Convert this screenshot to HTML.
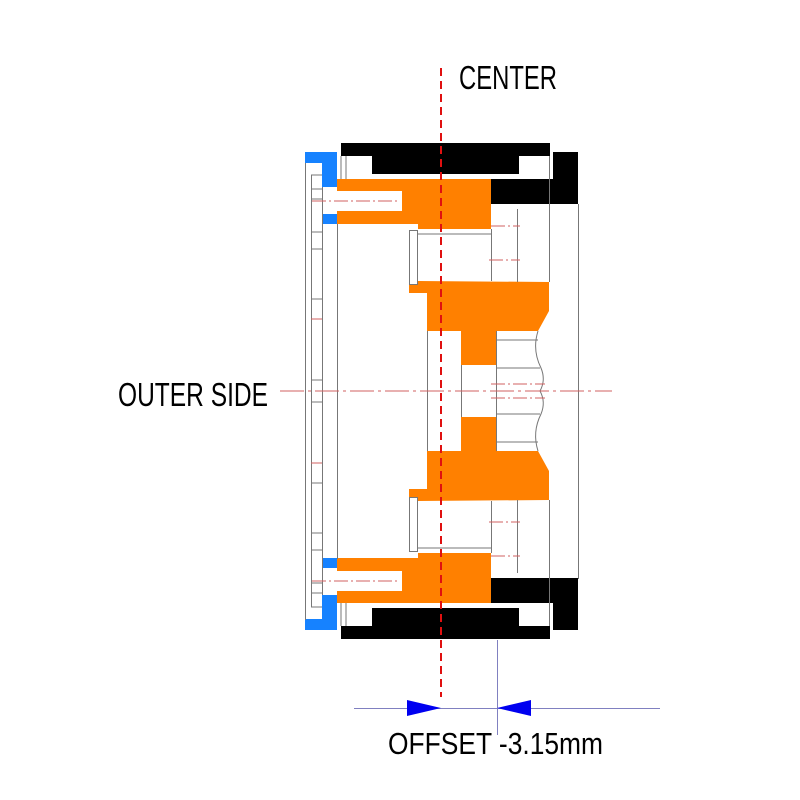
<!DOCTYPE html>
<html><head><meta charset="utf-8"><style>html,body{margin:0;padding:0;background:#fff}svg{display:block}</style></head>
<body>
<svg width="800" height="800" viewBox="0 0 800 800" xmlns="http://www.w3.org/2000/svg">
<rect width="800" height="800" fill="#fff"/>
<g id="half">
  <!-- black top -->
  <rect x="341" y="143" width="209" height="13" fill="#000"/>
  <rect x="372" y="143" width="147" height="31" fill="#000"/>
  <rect x="553" y="152" width="25" height="52" fill="#000"/>
  <rect x="491" y="179" width="87" height="25" fill="#000"/>
  <!-- blue -->
  <rect x="305" y="152" width="32" height="11" fill="#1682ff"/>
  <rect x="322" y="152" width="15" height="35" fill="#1682ff"/>
  <rect x="322" y="214" width="15" height="10" fill="#1682ff"/>
  <!-- orange -->
  <polygon points="337,179 491,179 491,229 418,229 418,224 337,224" fill="#ff8000"/>
  <rect x="337" y="191" width="65" height="20" fill="#fff"/>
  <polygon points="418,281 549,282 549,311 538,331 496,331 496,365 461,365 461,331 427,331 427,293 409,293 409,285 418,285" fill="#ff8000"/>
  <!-- gray lines -->
  <g stroke="#777" stroke-width="1" fill="none">
    <line x1="346" y1="156" x2="346" y2="179"/>
    <line x1="341" y1="156" x2="341" y2="179"/>
    <rect x="409.5" y="230.5" width="8" height="54"/>
    <line x1="418" y1="234" x2="491" y2="234"/>
    <line x1="491.5" y1="229" x2="491.5" y2="281"/>
    <line x1="517.5" y1="209" x2="517.5" y2="282"/>
    <line x1="549.5" y1="156" x2="549.5" y2="282"/>
    <line x1="427.5" y1="331" x2="427.5" y2="391"/>
    <line x1="461.5" y1="365" x2="461.5" y2="391"/>
    <line x1="496.5" y1="331" x2="496.5" y2="391"/>
    <line x1="496" y1="340" x2="538" y2="340"/>
    <line x1="496" y1="368" x2="540" y2="368"/>
    <path d="M538,331 Q532,350 541,368 Q546,380 540,391"/>
    <line x1="322.5" y1="187" x2="322.5" y2="391"/>
    <line x1="311.5" y1="175" x2="311.5" y2="391"/>
    <line x1="311" y1="175" x2="322" y2="175"/>
    <line x1="311" y1="189" x2="322" y2="189"/>
    <line x1="311" y1="199" x2="322" y2="199"/>
    <line x1="311" y1="232" x2="322" y2="232"/>
    <line x1="311" y1="249" x2="322" y2="249"/>
    <line x1="311" y1="299" x2="322" y2="299"/>
    <line x1="311" y1="380" x2="322" y2="380"/>
  </g>
  <g stroke="#d06060" stroke-width="1" stroke-dasharray="14,3,2,3" fill="none">
    <line x1="312" y1="201" x2="400" y2="201"/>
    <line x1="491" y1="226" x2="520" y2="226"/>
    <line x1="489" y1="260" x2="520" y2="260"/>
    <line x1="491" y1="384" x2="545" y2="384"/>
    <line x1="311" y1="319" x2="322" y2="319"/>
  </g>
</g>
<use href="#half" transform="translate(0,782) scale(1,-1)"/>
<g stroke="#777" stroke-width="1" fill="none">
  <line x1="305.5" y1="163" x2="305.5" y2="620"/>
  <line x1="337.5" y1="224" x2="337.5" y2="559"/>
  <line x1="578.5" y1="204" x2="578.5" y2="579"/>
</g>
<line x1="280" y1="391" x2="612" y2="391" stroke="#d06060" stroke-width="1" stroke-dasharray="24,4,3,4"/>
<line x1="441" y1="68" x2="441" y2="697" stroke="#e01010" stroke-width="2" stroke-dasharray="8,5"/>
<!-- dimension -->
<line x1="497.5" y1="640" x2="497.5" y2="735" stroke="#8080c0" stroke-width="1"/>
<line x1="354" y1="708.5" x2="660" y2="708.5" stroke="#8080c0" stroke-width="1"/>
<polygon points="407,700 441,708 407,716" fill="#0000f0"/>
<polygon points="531,700 497,708 531,716" fill="#0000f0"/>
<g font-family="'Liberation Sans Narrow','Liberation Sans',sans-serif" fill="#000">
  <text x="459" y="89" font-size="33" textLength="98" lengthAdjust="spacingAndGlyphs">CENTER</text>
  <text x="118" y="406" font-size="33" textLength="150" lengthAdjust="spacingAndGlyphs">OUTER SIDE</text>
  <text x="388" y="754" font-size="31" textLength="215" lengthAdjust="spacingAndGlyphs">OFFSET -3.15mm</text>
</g>
</svg>
</body></html>
